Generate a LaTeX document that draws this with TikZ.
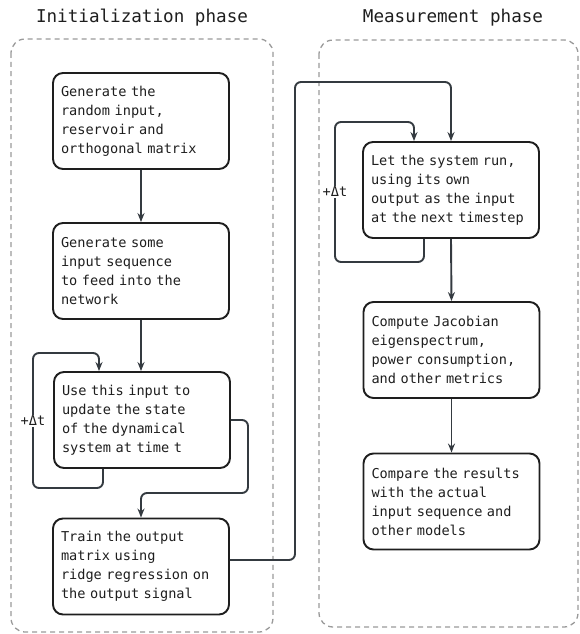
\documentclass[tikz,border=0pt]{standalone}
\usepackage{fontspec}
\newfontfamily\boxfont{DejaVu Sans Mono}
\usetikzlibrary{arrows.meta}
\definecolor{ink}{HTML}{1E1E1E}
\definecolor{wire}{HTML}{343A40}
\definecolor{frame}{HTML}{9A9A9A}
\begin{document}
\begin{tikzpicture}[x=1pt,y=-1pt,
  stepbox/.style={draw=ink, line width=1.9pt, rounded corners=10pt,
    minimum width=176pt, minimum height=96pt, text width=160pt, inner xsep=8pt,
    align=left, font=\boxfont\fontsize{13.6}{19}\selectfont, text=ink},
  phase/.style={draw=frame, line width=1.3pt, dash pattern=on 5pt off 4pt, rounded corners=14pt},
  title/.style={font=\boxfont\fontsize{17.6}{20}\selectfont, text=ink},
  arr/.style={draw=wire, line width=1.9pt, rounded corners=6pt, -{Stealth[length=9pt,width=7pt]}},
  lbl/.style={fill=white, inner sep=1pt, font=\boxfont\fontsize{13.6}{16}\selectfont, text=ink}]
\useasboundingbox (0,0) rectangle (579,634);
% containers
\draw[phase] (11,39) rectangle (273,632);
\draw[phase] (319,40) rectangle (578,627);
\node[title] (t1) at (142,18) {Initialization phase};
\node[title] (t2) at (453,18) {Measurement phase};
% left boxes
\node[stepbox] (b1) at (141,121) {Generate the\\random input,\\reservoir and\\orthogonal matrix};
\node[stepbox] (b2) at (141,271) {Generate some\\input sequence\\to feed into the\\network};
\node[stepbox] (b3) at (142,420) {Use this input to\\update the state\\of the dynamical\\system at time t};
\node[stepbox] (b4) at (141,566.5) {Train the output\\matrix using\\ridge regression on\\the output signal};
% right boxes
\node[stepbox] (bA) at (451,190) {Let the system run,\\using its own\\output as the input\\at the next timestep};
\node[stepbox] (bB) at (451.5,350) {Compute Jacobian\\eigenspectrum,\\power consumption,\\and other metrics};
\node[stepbox] (bC) at (451.5,501.5) {Compare the results\\with the actual\\input sequence and\\other models};
% connectors
\draw[arr] (b1.south) -- (b2.north);
\draw[arr] (b2.south) -- (b2.south |- b3.north);
\draw[arr] ([xshift=-39pt]b3.south) |- (33,488) -- (33,353) -| ([xshift=-43pt]b3.north);
\node[lbl] (d1) at (33,421) {+Δt};
\draw[arr] (b3.east) -| (248,493) -| (b4.north);
\draw[arr] ([yshift=6.5pt]b4.east) -| (295,82) -| (bA.north);
\draw[arr] ([xshift=-27pt]bA.south) |- (335,262) -- (335,122) -| ([xshift=-37pt]bA.north);
\node[lbl] (d2) at (335,192) {+Δt};
\draw[arr] (bA.south) -- (bB.north);
\draw[arr] (bB.south) -- (bC.north);
\end{tikzpicture}
\end{document}
